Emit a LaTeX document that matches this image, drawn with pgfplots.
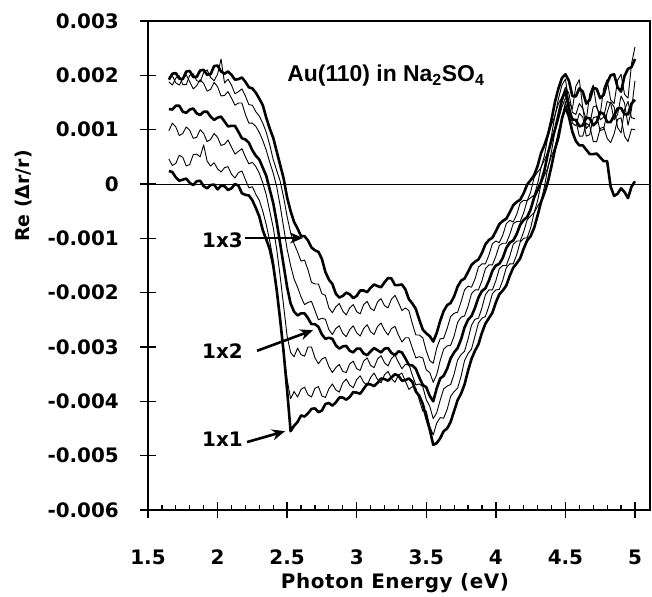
\documentclass[border=0pt]{standalone}
\usepackage{pgfplots}
\pgfplotsset{compat=1.18}
\usepackage{pgfplotstable}
\usepackage{fontspec}
\setmainfont{DejaVu Sans}
\newfontfamily\titlefont{Liberation Sans}
\usetikzlibrary{arrows.meta}
\newcommand\tl[1]{{\fontsize{20}{24}\selectfont\bfseries #1}}

\pgfplotstableread{
x     A        B        C        D        E        F        G
1.65  1.92e-3  1.88e-3  1.97e-3  1.38e-3  0.98e-3  0.46e-3  0.24e-3
1.675 2.03e-3  1.82e-3  1.99e-3  1.37e-3  1.12e-3  0.34e-3  0.22e-3
1.70  2.04e-3  1.95e-3  1.86e-3  1.44e-3  1.05e-3  0.38e-3  0.12e-3
1.725 1.94e-3  1.99e-3  1.82e-3  1.44e-3  0.89e-3  0.53e-3  0.06e-3
1.75  1.93e-3  1.83e-3  1.94e-3  1.33e-3  0.93e-3  0.49e-3  0.08e-3
1.775 2.07e-3  1.83e-3  2.01e-3  1.31e-3  1.05e-3  0.33e-3  0.10e-3
1.80  2.08e-3  2.00e-3  1.88e-3  1.37e-3  0.99e-3  0.36e-3  0.02e-3
1.825 1.97e-3  2.03e-3  1.75e-3  1.39e-3  0.84e-3  0.54e-3  -0.02e-3
1.85  1.97e-3  1.90e-3  1.81e-3  1.30e-3  0.86e-3  0.55e-3  0.05e-3
1.875 2.09e-3  1.88e-3  1.92e-3  1.27e-3  1.00e-3  0.50e-3  0.06e-3
1.90  2.10e-3  2.05e-3  1.85e-3  1.33e-3  0.93e-3  0.72e-3  -0.04e-3
1.925 2.01e-3  2.10e-3  1.71e-3  1.33e-3  0.78e-3  0.42e-3  -0.08e-3
1.95  2.02e-3  1.96e-3  1.74e-3  1.24e-3  0.82e-3  0.33e-3  -0.02e-3
1.975 2.17e-3  1.90e-3  1.87e-3  1.18e-3  0.93e-3  0.39e-3  -0.01e-3
2.00  2.18e-3  2.02e-3  1.79e-3  1.22e-3  0.86e-3  0.28e-3  -0.10e-3
2.025 2.07e-3  2.30e-3  1.62e-3  1.24e-3  0.71e-3  0.22e-3  -0.03e-3
2.05  2.03e-3  1.86e-3  1.63e-3  1.15e-3  0.73e-3  0.30e-3  -0.04e-3
2.075 2.07e-3  1.93e-3  1.70e-3  1.06e-3  0.81e-3  0.32e-3  -0.11e-3
2.10  2.01e-3  1.82e-3  1.58e-3  1.07e-3  0.68e-3  0.18e-3  -0.08e-3
2.125 1.92e-3  1.66e-3  1.45e-3  1.07e-3  0.55e-3  0.11e-3  0.00e-3
2.15  1.93e-3  1.70e-3  1.49e-3  0.96e-3  0.60e-3  0.21e-3  -0.03e-3
2.175 1.96e-3  1.75e-3  1.49e-3  0.84e-3  0.65e-3  0.24e-3  -0.17e-3
2.20  1.88e-3  1.62e-3  1.28e-3  0.82e-3  0.50e-3  0.08e-3  -0.20e-3
2.225 1.78e-3  1.46e-3  1.12e-3  0.76e-3  0.37e-3  -0.07e-3 -0.21e-3
2.25  1.76e-3  1.45e-3  1.12e-3  0.62e-3  0.40e-3  -0.05e-3 -0.30e-3
2.275 1.68e-3  1.33e-3  1.06e-3  0.52e-3  0.32e-3  -0.19e-3 -0.44e-3
2.30  1.57e-3  1.25e-3  0.95e-3  0.45e-3  0.20e-3  -0.30e-3 -0.60e-3
2.325 1.45e-3  1.12e-3  0.80e-3  0.30e-3  0.02e-3  -0.50e-3 -0.85e-3
2.35  1.22e-3  0.95e-3  0.62e-3  0.15e-3  -0.20e-3 -0.75e-3 -1.02e-3
2.375 1.02e-3  0.72e-3  0.40e-3  -0.10e-3 -0.50e-3 -1.05e-3 -1.20e-3
2.40  0.85e-3  0.45e-3  0.20e-3  -0.35e-3 -0.80e-3 -1.40e-3 -1.50e-3
2.425 0.60e-3  0.25e-3  -0.05e-3 -0.70e-3 -1.20e-3 -1.90e-3 -1.95e-3
2.45  0.35e-3  0.05e-3  -0.40e-3 -1.10e-3 -1.70e-3 -2.50e-3 -2.50e-3
2.475 0.10e-3  -0.25e-3 -0.80e-3 -1.50e-3 -2.25e-3 -3.10e-3 -3.10e-3
2.50  -0.25e-3 -0.60e-3 -1.20e-3 -1.90e-3 -2.80e-3 -3.60e-3 -3.80e-3
2.525 -0.50e-3 -0.90e-3 -1.50e-3 -2.20e-3 -3.10e-3 -3.95e-3 -4.55e-3
2.55  -0.70e-3 -1.10e-3 -1.75e-3 -2.35e-3 -3.18e-3 -3.82e-3 -4.45e-3
2.575 -0.82e-3 -1.25e-3 -1.90e-3 -2.42e-3 -3.02e-3 -3.92e-3 -4.38e-3
2.60  -0.96e-3 -1.42e-3 -2.08e-3 -2.38e-3 -3.14e-3 -3.78e-3 -4.26e-3
2.625 -0.96e-3 -1.40e-3 -2.22e-3 -2.38e-3 -3.17e-3 -3.74e-3 -4.28e-3
2.65  -1.04e-3 -1.58e-3 -2.18e-3 -2.47e-3 -3.00e-3 -3.88e-3 -4.22e-3
2.675 -1.17e-3 -1.81e-3 -2.16e-3 -2.58e-3 -3.00e-3 -3.92e-3 -4.14e-3
2.70  -1.22e-3 -1.84e-3 -2.33e-3 -2.58e-3 -3.20e-3 -3.76e-3 -4.13e-3
2.725 -1.25e-3 -1.84e-3 -2.50e-3 -2.63e-3 -3.31e-3 -3.73e-3 -4.20e-3
2.75  -1.38e-3 -2.02e-3 -2.47e-3 -2.77e-3 -3.22e-3 -3.90e-3 -4.17e-3
2.775 -1.62e-3 -2.05e-3 -2.49e-3 -2.85e-3 -3.19e-3 -3.93e-3 -4.05e-3
2.80  -1.76e-3 -2.28e-3 -2.68e-3 -2.83e-3 -3.36e-3 -3.77e-3 -4.03e-3
2.825 -1.84e-3 -2.37e-3 -2.77e-3 -2.85e-3 -3.47e-3 -3.68e-3 -4.08e-3
2.85  -2.02e-3 -2.26e-3 -2.66e-3 -2.97e-3 -3.38e-3 -3.79e-3 -4.02e-3
2.875 -2.09e-3 -2.20e-3 -2.61e-3 -3.03e-3 -3.32e-3 -3.83e-3 -3.93e-3
2.90  -2.06e-3 -2.34e-3 -2.75e-3 -2.99e-3 -3.45e-3 -3.66e-3 -3.93e-3
2.925 -2.00e-3 -2.41e-3 -2.81e-3 -2.98e-3 -3.47e-3 -3.59e-3 -3.97e-3
2.95  -2.03e-3 -2.28e-3 -2.68e-3 -3.07e-3 -3.31e-3 -3.70e-3 -3.92e-3
2.975 -2.10e-3 -2.22e-3 -2.61e-3 -3.10e-3 -3.26e-3 -3.75e-3 -3.83e-3
3.00  -2.06e-3 -2.35e-3 -2.74e-3 -3.03e-3 -3.40e-3 -3.60e-3 -3.84e-3
3.025 -1.96e-3 -2.39e-3 -2.80e-3 -3.03e-3 -3.43e-3 -3.53e-3 -3.86e-3
3.05  -1.96e-3 -2.22e-3 -2.66e-3 -3.12e-3 -3.26e-3 -3.65e-3 -3.77e-3
3.075 -1.99e-3 -2.16e-3 -2.59e-3 -3.15e-3 -3.20e-3 -3.71e-3 -3.68e-3
3.10  -1.91e-3 -2.29e-3 -2.72e-3 -3.08e-3 -3.34e-3 -3.56e-3 -3.69e-3
3.125 -1.85e-3 -2.33e-3 -2.77e-3 -3.02e-3 -3.38e-3 -3.48e-3 -3.72e-3
3.15  -1.88e-3 -2.17e-3 -2.62e-3 -3.06e-3 -3.22e-3 -3.60e-3 -3.66e-3
3.175 -1.90e-3 -2.11e-3 -2.56e-3 -3.10e-3 -3.16e-3 -3.66e-3 -3.58e-3
3.20  -1.81e-3 -2.24e-3 -2.69e-3 -3.03e-3 -3.29e-3 -3.51e-3 -3.59e-3
3.225 -1.73e-3 -2.28e-3 -2.78e-3 -3.02e-3 -3.35e-3 -3.45e-3 -3.62e-3
3.25  -1.74e-3 -2.12e-3 -2.66e-3 -3.11e-3 -3.21e-3 -3.58e-3 -3.56e-3
3.275 -1.86e-3 -2.05e-3 -2.62e-3 -3.15e-3 -3.15e-3 -3.65e-3 -3.50e-3
3.30  -1.86e-3 -2.18e-3 -2.78e-3 -3.08e-3 -3.28e-3 -3.52e-3 -3.53e-3
3.325 -1.85e-3 -2.33e-3 -2.91e-3 -3.10e-3 -3.40e-3 -3.48e-3 -3.62e-3
3.35  -1.94e-3 -2.28e-3 -2.83e-3 -3.21e-3 -3.32e-3 -3.63e-3 -3.61e-3
3.375 -2.12e-3 -2.33e-3 -2.83e-3 -3.33e-3 -3.32e-3 -3.78e-3 -3.58e-3
3.40  -2.20e-3 -2.57e-3 -3.02e-3 -3.34e-3 -3.52e-3 -3.73e-3 -3.64e-3
3.425 -2.30e-3 -2.78e-3 -3.20e-3 -3.40e-3 -3.70e-3 -3.76e-3 -3.82e-3
3.45  -2.50e-3 -2.78e-3 -3.18e-3 -3.56e-3 -3.68e-3 -3.98e-3 -3.90e-3
3.475 -2.68e-3 -2.83e-3 -3.20e-3 -3.70e-3 -3.73e-3 -4.18e-3 -4.05e-3
3.50  -2.75e-3 -3.07e-3 -3.42e-3 -3.74e-3 -3.97e-3 -4.18e-3 -4.30e-3
3.525 -2.80e-3 -3.25e-3 -3.47e-3 -3.90e-3 -4.09e-3 -4.46e-3 -4.52e-3
3.55  -2.90e-3 -3.30e-3 -3.65e-3 -4.00e-3 -4.32e-3 -4.62e-3 -4.80e-3
3.575 -2.74e-3 -3.02e-3 -3.51e-3 -3.76e-3 -4.21e-3 -4.40e-3 -4.77e-3
3.60  -2.52e-3 -2.85e-3 -3.25e-3 -3.58e-3 -3.98e-3 -4.30e-3 -4.68e-3
3.625 -2.34e-3 -2.84e-3 -3.04e-3 -3.53e-3 -3.77e-3 -4.31e-3 -4.55e-3
3.65  -2.23e-3 -2.66e-3 -2.98e-3 -3.40e-3 -3.72e-3 -4.15e-3 -4.50e-3
3.675 -2.19e-3 -2.44e-3 -2.97e-3 -3.21e-3 -3.69e-3 -3.91e-3 -4.38e-3
3.70  -2.07e-3 -2.38e-3 -2.80e-3 -3.10e-3 -3.50e-3 -3.82e-3 -4.18e-3
3.725 -1.89e-3 -2.36e-3 -2.55e-3 -3.02e-3 -3.24e-3 -3.76e-3 -3.98e-3
3.75  -1.78e-3 -2.17e-3 -2.45e-3 -2.86e-3 -3.14e-3 -3.54e-3 -3.86e-3
3.775 -1.74e-3 -1.95e-3 -2.43e-3 -2.64e-3 -3.08e-3 -3.25e-3 -3.69e-3
3.80  -1.62e-3 -1.88e-3 -2.25e-3 -2.50e-3 -2.86e-3 -3.12e-3 -3.44e-3
3.825 -1.49e-3 -1.90e-3 -2.02e-3 -2.43e-3 -2.60e-3 -3.04e-3 -3.22e-3
3.85  -1.43e-3 -1.75e-3 -1.95e-3 -2.28e-3 -2.49e-3 -2.80e-3 -3.07e-3
3.875 -1.39e-3 -1.53e-3 -1.95e-3 -2.09e-3 -2.47e-3 -2.56e-3 -2.95e-3
3.90  -1.27e-3 -1.47e-3 -1.78e-3 -1.97e-3 -2.28e-3 -2.47e-3 -2.74e-3
3.925 -1.11e-3 -1.47e-3 -1.56e-3 -1.92e-3 -2.04e-3 -2.44e-3 -2.57e-3
3.95  -1.03e-3 -1.31e-3 -1.49e-3 -1.78e-3 -1.95e-3 -2.25e-3 -2.47e-3
3.975 -0.99e-3 -1.10e-3 -1.49e-3 -1.60e-3 -1.95e-3 -2.02e-3 -2.37e-3
4.00  -0.87e-3 -1.05e-3 -1.33e-3 -1.50e-3 -1.78e-3 -1.95e-3 -2.18e-3
4.025 -0.74e-3 -1.08e-3 -1.13e-3 -1.47e-3 -1.56e-3 -1.94e-3 -2.03e-3
4.05  -0.68e-3 -0.94e-3 -1.09e-3 -1.36e-3 -1.50e-3 -1.77e-3 -1.96e-3
4.075 -0.64e-3 -0.73e-3 -1.09e-3 -1.18e-3 -1.50e-3 -1.54e-3 -1.87e-3
4.10  -0.52e-3 -0.67e-3 -0.93e-3 -1.08e-3 -1.33e-3 -1.47e-3 -1.69e-3
4.125 -0.39e-3 -0.70e-3 -0.73e-3 -1.04e-3 -1.11e-3 -1.47e-3 -1.54e-3
4.15  -0.33e-3 -0.56e-3 -0.69e-3 -0.92e-3 -1.05e-3 -1.30e-3 -1.46e-3
4.175 -0.29e-3 -0.35e-3 -0.69e-3 -0.75e-3 -1.05e-3 -1.07e-3 -1.37e-3
4.20  -0.17e-3 -0.30e-3 -0.53e-3 -0.66e-3 -0.88e-3 -1.00e-3 -1.19e-3
4.225 -0.01e-3 -0.31e-3 -0.31e-3 -0.61e-3 -0.66e-3 -0.99e-3 -1.04e-3
4.25  0.07e-3  -0.15e-3 -0.25e-3 -0.47e-3 -0.59e-3 -0.81e-3 -0.96e-3
4.275 0.16e-3  0.12e-3  -0.21e-3 -0.25e-3 -0.53e-3 -0.53e-3 -0.81e-3
4.30  0.33e-3  0.22e-3  0.00e-3  -0.11e-3 -0.31e-3 -0.41e-3 -0.58e-3
4.325 0.57e-3  0.30e-3  0.31e-3  0.04e-3  0.01e-3  -0.31e-3 -0.33e-3
4.35  0.72e-3  0.53e-3  0.45e-3  0.26e-3  0.16e-3  -0.04e-3 -0.16e-3
4.375 0.91e-3  0.89e-3  0.59e-3  0.57e-3  0.30e-3  0.32e-3  0.05e-3
4.40  1.18e-3  1.09e-3  0.89e-3  0.80e-3  0.60e-3  0.52e-3  0.33e-3
4.425 1.51e-3  1.25e-3  1.27e-3  1.00e-3  0.97e-3  0.67e-3  0.64e-3
4.45  1.76e-3  1.57e-3  1.48e-3  1.27e-3  1.18e-3  0.97e-3  0.86e-3
4.475 1.95e-3  1.82e-3  1.60e-3  1.55e-3  1.42e-3  1.18e-3  1.20e-3
4.50  2.02e-3  1.93e-3  1.78e-3  1.72e-3  1.58e-3  1.52e-3  1.42e-3
4.525 1.90e-3  1.51e-3  1.67e-3  1.39e-3  1.49e-3  1.25e-3  1.24e-3
4.55  1.62e-3  1.38e-3  1.32e-3  1.18e-3  1.12e-3  1.22e-3  0.96e-3
4.575 1.61e-3  1.80e-3  1.28e-3  1.18e-3  1.07e-3  1.17e-3  0.79e-3
4.60  1.76e-3  1.92e-3  1.48e-3  1.06e-3  1.30e-3  0.88e-3  0.71e-3
4.625 1.70e-3  1.40e-3  1.39e-3  1.08e-3  1.23e-3  0.88e-3  0.71e-3
4.65  1.48e-3  1.18e-3  1.02e-3  1.22e-3  0.88e-3  1.12e-3  0.63e-3
4.675 1.55e-3  1.66e-3  1.10e-3  1.21e-3  0.91e-3  1.07e-3  0.55e-3
4.70  1.77e-3  1.82e-3  1.42e-3  1.08e-3  1.22e-3  0.78e-3  0.55e-3
4.725 1.75e-3  1.40e-3  1.44e-3  1.14e-3  1.24e-3  0.78e-3  0.56e-3
4.75  1.58e-3  1.28e-3  1.18e-3  1.32e-3  0.98e-3  1.02e-3  0.49e-3
4.775 1.64e-3  1.76e-3  1.23e-3  1.29e-3  1.01e-3  1.05e-3  0.42e-3
4.80  1.86e-3  1.92e-3  1.52e-3  1.14e-3  1.32e-3  0.84e-3  0.42e-3
4.825 2.00e-3  1.55e-3  1.49e-3  1.14e-3  1.51e-3  0.76e-3  -0.05e-3
4.85  2.02e-3  1.48e-3  1.18e-3  1.26e-3  1.42e-3  0.92e-3  -0.22e-3
4.875 1.78e-3  1.91e-3  1.28e-3  1.39e-3  1.04e-3  1.19e-3  -0.18e-3
4.90  1.70e-3  2.02e-3  1.62e-3  1.40e-3  0.94e-3  1.22e-3  -0.08e-3
4.925 1.99e-3  1.65e-3  1.49e-3  1.28e-3  1.37e-3  0.88e-3  -0.15e-3
4.95  2.12e-3  1.58e-3  1.08e-3  1.28e-3  1.52e-3  0.78e-3  -0.26e-3
4.975 2.15e-3  2.21e-3  1.37e-3  1.48e-3  1.22e-3  1.01e-3  -0.05e-3
5.00  2.30e-3  2.52e-3  1.90e-3  1.55e-3  1.20e-3  1.00e-3  0.05e-3
}\data

\begin{document}
\begin{tikzpicture}
\begin{axis}[
  name=ax,
  width=502bp, height=489bp, scale only axis,
  xmin=1.5, xmax=5.108, ymin=-0.006, ymax=0.003,
  scaled ticks=false,
  axis line style={line width=1.4bp},
  xtick={1.5,2,2.5,3,3.5,4,4.5,5},
  xticklabels={\tl{1.5},\tl{2},\tl{2.5},\tl{3},\tl{3.5},\tl{4},\tl{4.5},\tl{5}},
  ytick={-0.006,-0.005,-0.004,-0.003,-0.002,-0.001,0,0.001,0.002,0.003},
  yticklabels={\tl{-0.006},\tl{-0.005},\tl{-0.004},\tl{-0.003},\tl{-0.002},\tl{-0.001},\tl{0},\tl{0.001},\tl{0.002},\tl{0.003}},
  minor x tick num=4,
  xtick pos=bottom, ytick pos=left,
  tick align=center,
  major tick length=16bp, minor tick length=5bp,
  major tick style={black, line width=1.4bp},
  minor tick style={black, line width=1.2bp, yshift=2.5bp},
  tick label style={font=\fontsize{20}{24}\selectfont\bfseries, inner sep=0pt},
  xticklabel shift=32bp,
  yticklabel shift=21bp,
  ylabel={Re (Δr/r)},
  ylabel style={font=\fontsize{19}{23}\selectfont\bfseries, at={(axis description cs:-0.247,0.642)}, anchor=center},
  xlabel={\addfontfeatures{LetterSpace=3}Photon Energy (eV)},
  xlabel style={font=\fontsize{20}{24}\selectfont\bfseries, at={(axis description cs:0.492,-0.16)}, anchor=base},
  clip=true,
]
\draw[line width=0.9bp] (axis cs:1.5,0) -- (axis cs:5.108,0);
\addplot[black, line width=2.6bp, line join=round] table[x=x,y=A] {\data};
\addplot[black, line width=0.9bp, line join=round] table[x=x,y=B] {\data};
\addplot[black, line width=0.9bp, line join=round] table[x=x,y=C] {\data};
\addplot[black, line width=2.6bp, line join=round] table[x=x,y=D] {\data};
\addplot[black, line width=0.9bp, line join=round] table[x=x,y=E] {\data};
\addplot[black, line width=0.9bp, line join=round] table[x=x,y=F] {\data};
\addplot[black, line width=2.6bp, line join=round] table[x=x,y=G] {\data};

\node[anchor=base west, inner sep=0pt, font=\titlefont\fontsize{23}{27}\selectfont\bfseries] at (axis cs:2.5,0.00188) {Au(110) in Na\textsubscript{2}SO\textsubscript{4}};

\node[anchor=base west, inner sep=0pt, font=\fontsize{20}{24}\selectfont\bfseries] at (axis cs:1.888,-0.00116) {1x3};
\node[anchor=base west, inner sep=0pt, font=\fontsize{20}{24}\selectfont\bfseries] at (axis cs:1.888,-0.00322) {1x2};
\node[anchor=base west, inner sep=0pt, font=\fontsize{20}{24}\selectfont\bfseries] at (axis cs:1.888,-0.00484) {1x1};

\draw[line width=2.6bp, -{Stealth[length=13bp,width=11bp]}] (axis cs:2.197,-0.000994) -- (axis cs:2.614,-0.000994);
\draw[line width=2.6bp, -{Stealth[length=13bp,width=11bp]}] (axis cs:2.284,-0.00307) -- (axis cs:2.686,-0.00269);
\draw[line width=2.6bp, -{Stealth[length=13bp,width=11bp]}] (axis cs:2.212,-0.00475) -- (axis cs:2.485,-0.00455);
\end{axis}
\pgfresetboundingbox
\path[use as bounding box] ([shift={(-148bp,-87bp)}]ax.south west) rectangle ([shift={(2bp,21bp)}]ax.north east);
\end{tikzpicture}
\end{document}
